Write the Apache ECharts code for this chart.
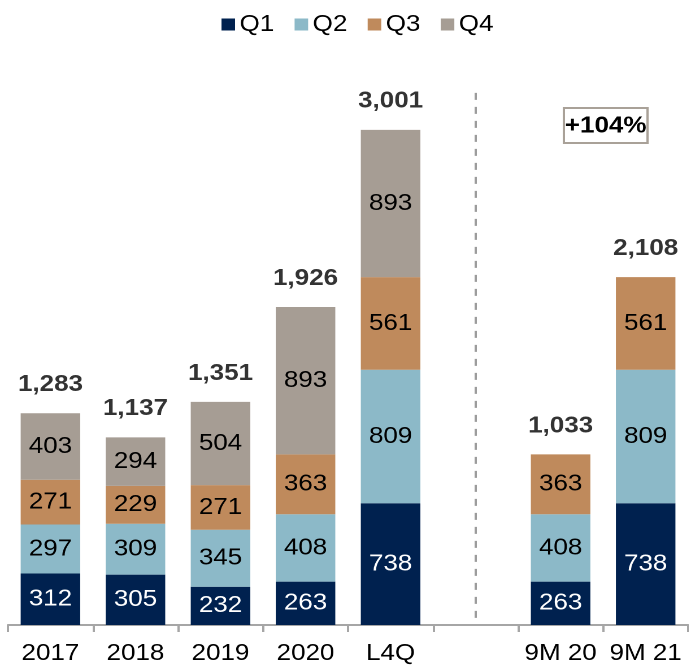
<!DOCTYPE html>
<html>
<head>
<meta charset="utf-8">
<title>Quarterly stacked totals</title>
<script src="https://cdn.jsdelivr.net/npm/echarts@6/dist/echarts.min.js"></script>
<style>
  html, body { margin: 0; padding: 0; background: #fff; overflow: hidden; }
  #wrap { width: 689px; height: 668px; overflow: hidden; }
  /* the chart is laid out narrower and widened, giving the broad lettering */
  #chart { width: 610px; height: 668px; transform: scaleX(1.13); transform-origin: 0 0; }
</style>
</head>
<body>
<div id="wrap"><div id="chart"></div></div>
<script>
// Periods on the x axis; the blank slot separates full years from nine-month figures
const categories = ['2017', '2018', '2019', '2020', 'L4Q', '', '9M 20', '9M 21'];

// Quarterly contributions
const q1 = [312, 305, 232, 263, 738, null, 263, 738];
const q2 = [297, 309, 345, 408, 809, null, 408, 809];
const q3 = [271, 229, 271, 363, 561, null, 363, 561];
const q4 = [403, 294, 504, 893, 893, null, null, null];

// Reported totals shown above each stack
const totals = [1283, 1137, 1351, 1926, 3001, null, 1033, 2108];

// Growth note between the nine-month periods
const growthNote = '+104%';

const FONT = '"Liberation Sans", Arial, Helvetica, sans-serif';
const FS = 23;
const colors = {
  Q1: '#00214f',
  Q2: '#8cb9c8',
  Q3: '#bf8a5c',
  Q4: '#a69d94'
};

function quarterSeries(name, data, textColor) {
  return {
    name: name,
    type: 'bar',
    stack: 'total',
    data: data,
    barCategoryGap: '30%',
    itemStyle: { color: colors[name] },
    label: {
      show: true,
      position: 'inside',
      color: textColor,
      fontFamily: FONT,
      fontSize: FS,
      formatter: p => (p.value == null ? '' : String(p.value))
    },
    emphasis: { disabled: true }
  };
}

const chart = echarts.init(document.getElementById('chart'), null, { renderer: 'canvas', devicePixelRatio: 2 });

chart.setOption({
  animation: false,
  backgroundColor: '#fff',
  legend: {
    data: ['Q1', 'Q2', 'Q3', 'Q4'],
    left: 191,
    top: 8,
    itemWidth: 12,
    itemHeight: 12,
    itemGap: 18,
    icon: 'rect',
    textStyle: { fontFamily: FONT, fontSize: FS, color: '#000', padding: [0, 0, 0, -1] },
    selectedMode: false
  },
  grid: { left: 7, right: 1, top: 31, bottom: 43, containLabel: false },
  xAxis: {
    type: 'category',
    data: categories,
    axisLine: { show: true, lineStyle: { color: '#a6a6a6', width: 2 } },
    axisTick: { show: true, length: 7, lineStyle: { color: '#a6a6a6', width: 2 } },
    axisLabel: {
      color: '#000',
      fontFamily: FONT,
      fontSize: FS,
      margin: 17,
      interval: 0
    }
  },
  yAxis: {
    type: 'value',
    min: 0,
    max: 3600,
    show: false,
    splitLine: { show: false }
  },
  series: [
    quarterSeries('Q1', q1, '#fff'),
    quarterSeries('Q2', q2, '#000'),
    quarterSeries('Q3', q3, '#000'),
    quarterSeries('Q4', q4, '#000'),
    {
      name: 'Total',
      type: 'scatter',
      data: totals,
      symbolSize: 0,
      silent: true,
      z: 5,
      label: {
        show: true,
        position: 'top',
        distance: 17,
        color: '#000',
        fontFamily: FONT,
        fontSize: FS,
        fontWeight: 'bold',
        formatter: p => (p.value == null ? '' : p.value.toLocaleString('en-US'))
      },
      // dashed divider through the blank slot
      markLine: {
        silent: true,
        symbol: 'none',
        label: { show: false },
        lineStyle: { color: '#9c9c9c', width: 2, type: [7, 7] },
        data: [[{ coord: [5, 3225] }, { coord: [5, 30] }]]
      }
    }
  ],
  graphic: [
    {
      type: 'rect',
      shape: { x: 499, y: 108, width: 74, height: 35 },
      style: { fill: '#fff', stroke: '#a9a198', lineWidth: 2 },
      z: 10
    },
    {
      type: 'text',
      x: 536,
      y: 126,
      style: {
        text: growthNote,
        font: 'bold ' + FS + 'px ' + FONT,
        fill: '#000',
        align: 'center',
        verticalAlign: 'middle'
      },
      z: 11
    }
  ]
});
</script>
</body>
</html>
